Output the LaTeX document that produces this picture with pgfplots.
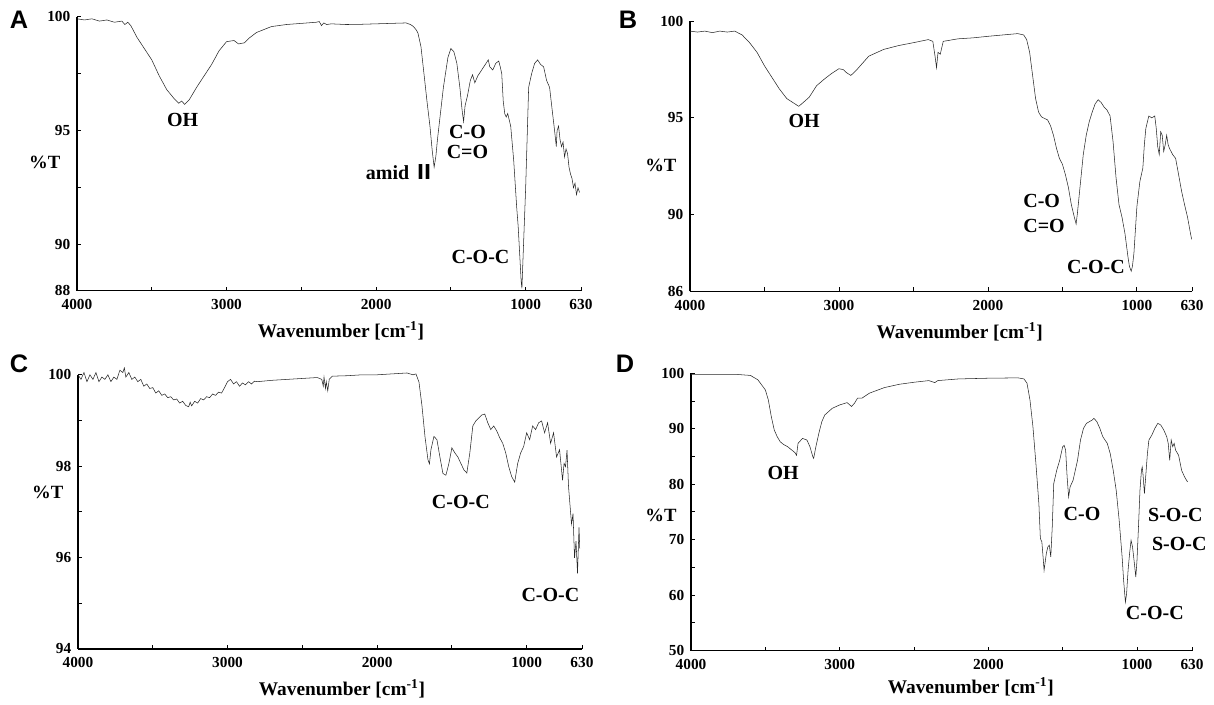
\documentclass[border=0pt]{standalone}
\usepackage{fontspec}
\setmainfont{Liberation Serif}
\newfontfamily\sansb{Liberation Sans}
\newfontfamily\cjk{Noto Sans CJK SC}
\usepackage{pgfplots}
\pgfplotsset{compat=1.18}
\pgfplotsset{ftir/.style={
  scale only axis, axis x line=bottom, axis y line=left,
  axis line style={-, line width=1.3pt, black},
  x dir=reverse, xmin=630, xmax=4000,
  xtick={4000,3500,3000,2500,2000,1500,1000,630},
  xticklabels={4000,,3000,,2000,,1000,630},
  tick align=inside, major tick length=3pt, minor tick length=3pt,
  tick style={line width=0.6pt, black},
  tick label style={font=\fontsize{11.5}{12}\selectfont\bfseries},
  xticklabel style={yshift=-3pt},
  yticklabel style={xshift=-1.5pt},
  /pgf/number format/assume math mode=true,
  xlabel={Wavenumber [cm\textsuperscript{-1}]},
  xlabel style={font=\fontsize{14.5}{15}\selectfont\bfseries, at={(rel axis cs:0.5,0)}, anchor=center, yshift=-30pt},
  clip=false,
  cycle list={{black!85, line width=0.6pt, mark=none}},
}}
\tikzset{ann/.style={font=\fontsize{15}{16}\selectfont\bfseries, inner sep=0pt},
         pt/.style={font=\fontsize{14}{15}\selectfont\bfseries, inner sep=0pt},
         let/.style={font=\sansb\fontsize{19}{20}\selectfont\bfseries, inner sep=0pt}}
\begin{document}
\begin{tikzpicture}
\useasboundingbox (0,0) rectangle (910.5pt,528pt);
% ---------------- A
\begin{axis}[ftir, at={(57.75pt,310.1pt)}, anchor=south west, width=378pt, height=205.5pt,
  ymin=88, ymax=100, ytick={88,90,95,100}, minor ytick={92.5,97.5},
  xlabel style={xshift=9pt}]
\addplot coordinates {(4000,99.9)(3950,99.85)(3900,99.9)(3850,99.8)(3800,99.85)(3750,99.75)(3700,99.8)(3680,99.65)(3660,99.75)(3640,99.6)(3600,99.1)(3550,98.6)(3500,98.1)(3450,97.4)(3400,96.8)(3350,96.4)(3320,96.2)(3300,96.3)(3280,96.15)(3250,96.35)(3200,96.9)(3150,97.4)(3100,97.9)(3050,98.5)(3000,98.9)(2950,98.95)(2920,98.8)(2880,98.85)(2850,99.05)(2800,99.3)(2700,99.56)(2600,99.65)(2500,99.7)(2400,99.75)(2380,99.78)(2365,99.6)(2350,99.72)(2330,99.65)(2300,99.68)(2200,99.65)(2100,99.66)(2000,99.68)(1900,99.7)(1800,99.72)(1770,99.65)(1750,99.56)(1730,99.4)(1720,99.27)(1700,98.68)(1680,97.5)(1660,96.3)(1640,95.2)(1625,94.14)(1612,93.4)(1600,93.9)(1590,94.6)(1570,95.75)(1550,96.9)(1520,98.2)(1500,98.6)(1480,98.46)(1460,97.95)(1440,96.9)(1425,95.9)(1415,95.4)(1405,96.1)(1390,96.5)(1370,97.2)(1355,97.45)(1340,97.1)(1320,97.4)(1280,97.8)(1250,98.1)(1240,97.8)(1220,97.66)(1200,97.95)(1180,98.05)(1170,97.8)(1160,97.5)(1150,96.3)(1140,95.75)(1130,95.6)(1120,95.75)(1100,95.2)(1080,93.7)(1060,91.65)(1050,90.8)(1040,89.6)(1030,88.4)(1025,88.1)(1020,89.0)(1000,92.5)(980,96.9)(960,97.5)(940,97.95)(920,98.1)(900,97.9)(880,97.8)(860,97.2)(840,96.9)(820,95.75)(810,95.2)(800,94.6)(795,94.3)(790,95.0)(780,95.2)(770,94.6)(760,94.3)(750,94.5)(740,93.85)(730,94.2)(720,94.0)(710,93.4)(700,93.1)(690,92.9)(680,92.5)(670,92.7)(660,92.2)(650,92.5)(640,92.3)};
\node[pt] at (rel axis cs:-0.064,0.467) {\%T};
\node[ann] at (axis cs:3294,95.46) {OH};
\node[ann] at (axis cs:1389,94.95) {C-O};
\node[ann] at (axis cs:1389,94.07) {C=O};
\node[ann] at (axis cs:1840,93.19) {amid {\cjk Ⅱ}};
\node[ann] at (axis cs:1302,89.49) {C-O-C};
\end{axis}
% ---------------- B
\begin{axis}[ftir, at={(517.5pt,309.4pt)}, anchor=south west, width=376.5pt, height=202.5pt,
  ymin=86, ymax=100, ytick={86,90,95,100},
  xlabel style={xshift=14pt}]
\addplot coordinates {(4000,99.5)(3950,99.45)(3900,99.5)(3850,99.42)(3800,99.5)(3750,99.45)(3700,99.5)(3650,99.3)(3600,98.9)(3550,98.4)(3500,97.7)(3450,97.1)(3400,96.5)(3350,96.0)(3300,95.75)(3270,95.6)(3250,95.73)(3200,96.07)(3150,96.67)(3100,97.0)(3050,97.3)(3000,97.55)(2970,97.5)(2950,97.35)(2920,97.2)(2880,97.5)(2800,98.2)(2700,98.55)(2600,98.75)(2500,98.9)(2400,99.06)(2370,98.97)(2355,98.2)(2345,97.6)(2335,98.4)(2320,98.3)(2300,98.97)(2200,99.1)(2100,99.15)(2000,99.23)(1900,99.3)(1800,99.37)(1760,99.3)(1740,99.06)(1720,98.4)(1700,97.2)(1680,96.0)(1660,95.3)(1640,95.05)(1620,94.97)(1600,94.9)(1580,94.6)(1560,94.1)(1540,93.43)(1520,92.9)(1500,92.6)(1480,92.06)(1460,91.4)(1440,90.5)(1420,89.85)(1408,89.5)(1400,90.0)(1380,91.55)(1360,93.1)(1340,94.1)(1320,94.8)(1300,95.3)(1280,95.73)(1260,95.94)(1240,95.8)(1220,95.56)(1200,95.4)(1180,95.1)(1160,93.77)(1140,91.9)(1120,90.5)(1100,89.85)(1080,89.0)(1060,87.8)(1050,87.3)(1038,87.05)(1030,87.3)(1020,87.97)(1000,90.4)(980,91.7)(960,92.4)(950,93.6)(940,94.45)(920,95.1)(900,95.0)(880,95.1)(870,94.45)(860,93.5)(850,93.1)(840,94.28)(830,94.1)(820,93.26)(810,93.6)(800,94.1)(790,93.6)(780,93.4)(760,93.1)(740,92.9)(720,92.06)(700,91.2)(680,90.5)(660,89.85)(640,89.0)(632,88.7)};
\node[pt] at (rel axis cs:-0.058,0.465) {\%T};
\node[ann] at (axis cs:3234,94.85) {OH};
\node[ann] at (axis cs:1639,90.7) {C-O};
\node[ann] at (axis cs:1623,89.37) {C=O};
\node[ann] at (axis cs:1275,87.29) {C-O-C};
\end{axis}
% ---------------- C
\begin{axis}[ftir, at={(58.5pt,41.4pt)}, anchor=south west, width=378pt, height=205.5pt,
  ymin=94, ymax=100, ytick={94,96,98,100}, minor ytick={95,97,99},
  xlabel style={xshift=9pt}]
\addplot coordinates {(4000,100.0)(3980,99.9)(3960,100.05)(3940,99.85)(3920,100.0)(3900,99.9)(3880,100.05)(3860,99.85)(3840,99.95)(3820,99.9)(3800,100.0)(3780,99.85)(3760,99.95)(3740,99.9)(3720,100.1)(3700,100.05)(3690,100.15)(3680,99.95)(3660,100.05)(3640,99.9)(3620,99.95)(3600,99.85)(3580,99.9)(3560,99.75)(3540,99.8)(3520,99.7)(3500,99.72)(3480,99.6)(3460,99.65)(3440,99.55)(3420,99.58)(3400,99.5)(3380,99.52)(3360,99.45)(3340,99.47)(3320,99.38)(3300,99.42)(3280,99.33)(3260,99.3)(3250,99.4)(3240,99.32)(3220,99.42)(3200,99.38)(3180,99.48)(3160,99.45)(3140,99.52)(3120,99.5)(3100,99.58)(3080,99.55)(3060,99.62)(3040,99.6)(3020,99.72)(3000,99.85)(2980,99.9)(2960,99.8)(2940,99.85)(2920,99.75)(2900,99.82)(2880,99.78)(2860,99.85)(2840,99.8)(2820,99.86)(2800,99.85)(2700,99.88)(2600,99.9)(2500,99.92)(2400,99.94)(2370,99.9)(2360,99.75)(2355,99.95)(2345,99.7)(2340,99.85)(2330,99.65)(2320,99.9)(2300,99.97)(2200,99.98)(2100,100.0)(2000,100.0)(1900,100.02)(1800,100.04)(1760,100.0)(1740,100.02)(1720,99.84)(1700,99.32)(1680,98.65)(1660,98.14)(1650,98.05)(1640,98.36)(1620,98.65)(1600,98.58)(1580,98.2)(1560,97.84)(1540,97.8)(1520,98.06)(1500,98.4)(1480,98.29)(1460,98.2)(1440,98.06)(1420,97.92)(1400,97.85)(1380,98.29)(1360,98.88)(1340,98.99)(1300,99.12)(1280,99.14)(1260,98.95)(1240,98.8)(1220,98.88)(1200,98.77)(1180,98.62)(1160,98.5)(1140,98.29)(1120,97.99)(1100,97.77)(1080,97.65)(1060,98.06)(1040,98.29)(1020,98.43)(1000,98.73)(980,98.58)(960,98.88)(940,98.8)(920,98.95)(900,98.99)(880,98.73)(860,98.95)(840,98.5)(820,98.73)(800,98.2)(780,98.36)(760,97.69)(750,98.06)(740,97.99)(730,98.35)(720,97.55)(700,96.73)(690,96.96)(680,95.99)(670,96.36)(660,95.65)(650,96.66)(645,96.2)};
\node[pt] at (rel axis cs:-0.06,0.571) {\%T};
\node[ann] at (axis cs:1440,97.21) {C-O-C};
\node[ann] at (axis cs:841,95.17) {C-O-C};
\end{axis}
% ---------------- D
\begin{axis}[ftir, at={(518.25pt,40.1pt)}, anchor=south west, width=375.75pt, height=208pt,
  ymin=50, ymax=100, ytick={50,60,70,80,90,100}, minor ytick={55,65,75,85,95},
  xlabel style={xshift=22pt, yshift=3pt}]
\addplot coordinates {(4000,99.8)(3800,99.8)(3700,99.8)(3600,99.6)(3550,98.8)(3500,97)(3480,95.2)(3460,92.2)(3440,89.76)(3420,88.55)(3400,87.65)(3380,87.2)(3350,86.75)(3320,86.1)(3300,85.66)(3290,85.2)(3280,87.35)(3250,88.25)(3220,87.95)(3200,86.75)(3180,84.9)(3175,84.64)(3160,86.75)(3140,89.16)(3120,91.27)(3100,92.47)(3050,93.67)(3000,94.28)(2950,94.7)(2920,94.0)(2900,94.6)(2880,95.5)(2850,95.5)(2800,96.4)(2700,97.4)(2600,98.0)(2500,98.37)(2400,98.67)(2360,98.3)(2340,98.67)(2200,98.97)(2000,99.1)(1800,99.16)(1760,98.97)(1740,98.2)(1720,95.2)(1700,90.36)(1680,83.73)(1660,76.5)(1650,70.2)(1640,69.6)(1630,66.27)(1625,64.46)(1610,67.47)(1600,68.67)(1590,69.0)(1580,66.87)(1570,72.3)(1560,80.1)(1540,82.5)(1520,84.3)(1500,86.75)(1490,87.0)(1480,86.1)(1470,81.3)(1460,77.7)(1450,79.5)(1430,80.7)(1400,84.3)(1380,87.95)(1360,90.06)(1340,90.96)(1320,91.27)(1300,91.57)(1290,91.87)(1270,91.27)(1250,90.06)(1230,88.55)(1200,87.35)(1180,85.5)(1160,82.5)(1140,78.9)(1120,73.5)(1100,66.87)(1090,62.65)(1078,58.73)(1070,60.24)(1060,64.46)(1050,67.47)(1040,69.88)(1030,68.67)(1020,66.27)(1008,63.25)(1000,66.27)(990,72.3)(980,78.9)(970,82.5)(965,83.1)(960,81.9)(950,78.3)(940,81.9)(930,85.5)(920,87.95)(900,88.86)(880,90.06)(860,90.96)(840,90.66)(820,89.76)(800,88.55)(790,87.35)(780,84.3)(770,87.95)(760,86.75)(750,87.35)(740,86.1)(720,85.2)(700,82.5)(680,81.3)(660,80.4)};
\node[pt] at (rel axis cs:-0.06,0.487) {\%T};
\node[ann] at (axis cs:3380,82.0) {OH};
\node[ann] at (axis cs:1370,74.7) {C-O};
\node[ann] at (axis cs:742,74.4) {S-O-C};
\node[ann] at (axis cs:716,69.3) {S-O-C};
\node[ann] at (axis cs:880,56.75) {C-O-C};
\end{axis}
\node[let] at (14.25pt,513pt) {A};
\node[let] at (471pt,513pt) {B};
\node[let] at (14.25pt,255pt) {C};
\node[let] at (468.75pt,255pt) {D};
\end{tikzpicture}
\end{document}
